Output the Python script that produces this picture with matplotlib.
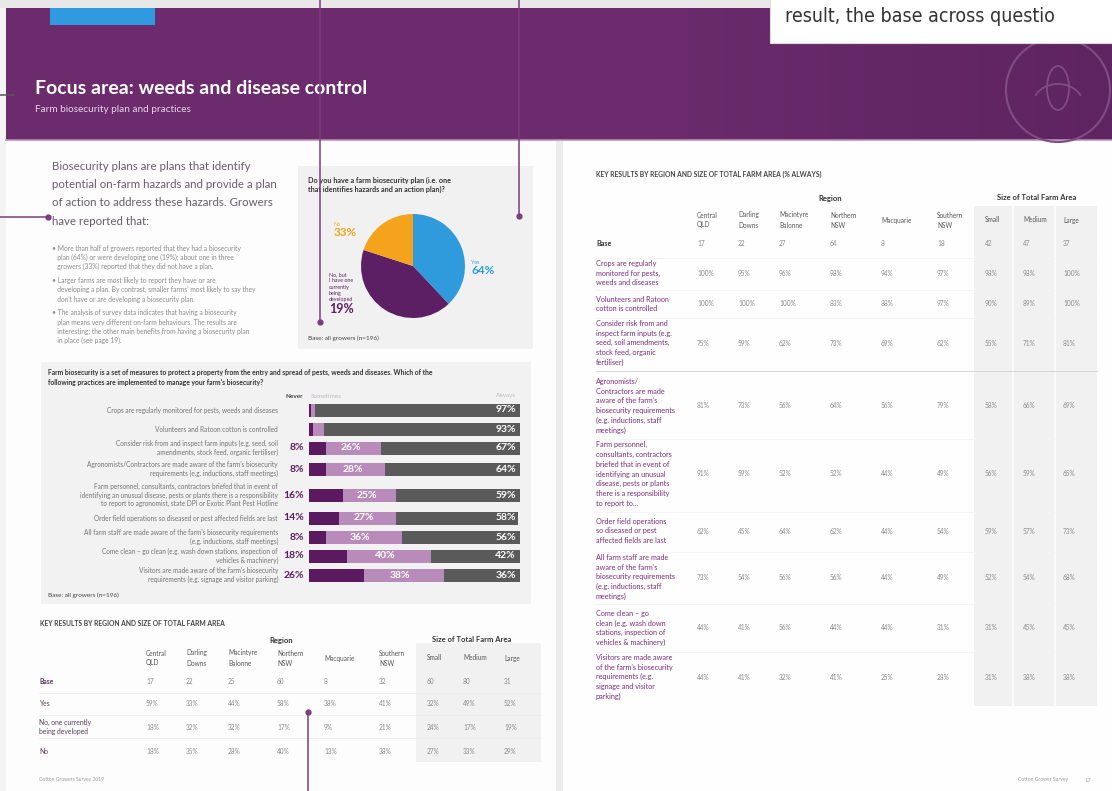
import matplotlib.pyplot as plt
from matplotlib.patches import Rectangle, Circle, Arc
from matplotlib.colors import LinearSegmentedColormap
import numpy as np

plt.rcParams['font.family'] = ['Lato', 'DejaVu Sans']

W, H = 1112, 791

# ---------------- data ----------------
pie_values = [38, 42, 20]          # slice sizes as drawn: yes, developing, no
pie_colors = ['#2f9bdc', '#5d1f63', '#f5a31c']
pie_pct_text = ['64%', '19%', '33%']

practices = [
    'Crops are regularly monitored for pests, weeds and diseases',
    'Volunteers and Ratoon cotton is controlled',
    'Consider risk from and inspect farm inputs (e.g. seed, soil\namendments, stock feed, organic fertiliser)',
    'Agronomists/Contractors are made aware of the farm\'s biosecurity\nrequirements (e.g. inductions, staff meetings)',
    'Farm personnel, consultants, contractors briefed that in event of\nidentifying an unusual disease, pests or plants there is a responsibility\nto report to agronomist, state DPI or Exotic Plant Pest Hotline',
    'Order field operations so diseased or pest affected fields are last',
    'All farm staff are made aware of the farm\'s biosecurity requirements\n(e.g. inductions, staff meetings)',
    'Come clean – go clean (e.g. wash down stations, inspection of\nvehicles & machinery)',
    'Visitors are made aware of the farm\'s biosecurity\nrequirements (e.g. signage and visitor parking)',
]
never = [1, 2, 8, 8, 16, 14, 8, 18, 26]
sometimes = [2, 5, 26, 28, 25, 27, 36, 40, 38]
always = [97, 93, 67, 64, 59, 58, 56, 42, 36]

regions = ['Central\nQLD', 'Darling\nDowns', 'Macintyre\nBalonne', 'Northern\nNSW',
           'Macquarie', 'Southern\nNSW']
sizes = ['Small', 'Medium', 'Large']

plan_rows = ['Base', 'Yes', 'No, one currently\nbeing developed', 'No']
plan_base = [17, 22, 25, 60, 8, 32, 60, 80, 31]
plan_yes = [59, 33, 44, 58, 38, 41, 32, 49, 52]
plan_dev = [18, 32, 32, 17, 9, 21, 24, 17, 19]
plan_no = [18, 35, 28, 40, 13, 38, 27, 33, 29]

always_rows = [
    'Base',
    'Crops are regularly\nmonitored for pests,\nweeds and diseases',
    'Volunteers and Ratoon\ncotton is controlled',
    'Consider risk from and\ninspect farm inputs (e.g.\nseed, soil amendments,\nstock feed, organic\nfertiliser)',
    'Agronomists/\nContractors are made\naware of the farm\'s\nbiosecurity requirements\n(e.g. inductions, staff\nmeetings)',
    'Farm personnel,\nconsultants, contractors\nbriefed that in event of\nidentifying an unusual\ndisease, pests or plants\nthere is a responsibility\nto report to...',
    'Order field operations\nso diseased or pest\naffected fields are last',
    'All farm staff are made\naware of the farm\'s\nbiosecurity requirements\n(e.g. inductions, staff\nmeetings)',
    'Come clean – go\nclean (e.g. wash down\nstations, inspection of\nvehicles & machinery)',
    'Visitors are made aware\nof the farm\'s biosecurity\nrequirements (e.g.\nsignage and visitor\nparking)',
]
always_base = [17, 22, 27, 64, 8, 18, 42, 47, 37]
always_vals = [
    [100, 95, 96, 98, 94, 97, 98, 98, 100],
    [100, 100, 100, 83, 88, 97, 90, 89, 100],
    [75, 59, 62, 73, 69, 62, 55, 71, 81],
    [81, 73, 56, 64, 56, 79, 58, 66, 69],
    [91, 59, 52, 52, 44, 49, 56, 59, 65],
    [62, 45, 64, 62, 44, 54, 59, 57, 73],
    [73, 54, 56, 56, 44, 49, 52, 54, 68],
    [44, 41, 56, 44, 44, 31, 31, 45, 45],
    [44, 41, 32, 41, 25, 28, 31, 38, 38],
]

PURPLE = '#6b2b6c'
PTEXT = '#7a2d7c'
GREY = '#8a8a8a'

fig = plt.figure(figsize=(W / 100, H / 100), dpi=100)
ax = fig.add_axes([0, 0, 1, 1])
ax.set_xlim(0, W)
ax.set_ylim(H, 0)
ax.axis('off')


def px_axes(x0, y0, x1, y1):
    return fig.add_axes([x0 / W, 1 - y1 / H, (x1 - x0) / W, (y1 - y0) / H])


def box(x0, y0, x1, y1, color, z=0, **kw):
    ax.add_patch(Rectangle((x0, y0), x1 - x0, y1 - y0, facecolor=color,
                           edgecolor='none', zorder=z, **kw))


# ---------------- page backgrounds ----------------
box(0, 0, W, H, '#f4f4f4', z=0)
box(6, 140, 556, H, '#fdfdfd', z=0.1)
box(563, 140, W, H, '#fefefe', z=0.1)
box(556, 140, 563, H, '#ececec', z=0.1)
box(0, 0, W, 8, '#e8e8e8', z=0.2)

# banner with a soft darker fade to the right
box(6, 8, W, 140, PURPLE, z=1)
fade = LinearSegmentedColormap.from_list('fade', [PURPLE, '#5e2461'])
ax.imshow(np.linspace(0, 1, 100).reshape(1, -1), cmap=fade, aspect='auto',
          extent=(650, W, 140, 8), zorder=1.05)
ax.set_xlim(0, W)
ax.set_ylim(H, 0)
ax.plot([6, W], [140, 140], color='#b890b8', lw=1.2, zorder=1.2)
box(50, 8, 155, 25, '#2f9ae0', z=1.3)
ax.add_patch(Circle((1058, 90), 52, facecolor='none', edgecolor='#7f4d83', lw=1.5, zorder=1.2))
ax.add_patch(Arc((1058, 104), 50, 40, theta1=200, theta2=340, edgecolor='#7f4d83', lw=1.3, zorder=1.2))
ax.add_patch(Arc((1058, 88), 22, 44, theta1=0, theta2=360, edgecolor='#7f4d83', lw=1.3, zorder=1.2))

ax.text(35, 88, 'Focus area: weeds and disease control', color='white', fontsize=14,
        fontweight='bold', va='center', zorder=3)
ax.text(35, 110, 'Farm biosecurity plan and practices', color='#e6d6e6', fontsize=7.2,
        va='center', zorder=3)

# white note box top right
box(770, 0, W, 43, 'white', z=2)
ax.plot([770, 770, W], [0, 43, 43], color='#dddddd', lw=0.8, zorder=2.1)
ax.text(785, 17, 'result, the base across questio', fontsize=14, color='#333333',
        family=['Liberation Sans Narrow', 'DejaVu Sans'], fontstretch='condensed',
        va='center', zorder=3)

# leader lines
LC = '#7b3d7d'
ax.plot([320, 320], [0, 322], color=LC, lw=1.1, zorder=4)
ax.plot([519, 519], [0, 216], color=LC, lw=1.1, zorder=4)
ax.plot([0, 48], [217, 217], color=LC, lw=1.1, zorder=4)
ax.plot([0, 14], [95, 95], color='#555555', lw=1.1, zorder=4)
ax.plot([308, 308], [712, H], color=LC, lw=1.1, zorder=4)
for x, y in [(320, 322), (519, 216), (48, 217), (308, 712)]:
    ax.plot(x, y, 'o', color=LC, ms=3.5, zorder=4.1)

# ---------------- intro text ----------------
intro = ['Biosecurity plans are plans that identify',
         'potential on-farm hazards and provide a plan',
         'of action to address these hazards. Growers',
         'have reported that:']
for i, line in enumerate(intro):
    ax.text(52, 166 + i * 18.5, line, fontsize=8.3, color='#6a5a6e', va='center', zorder=3)

bullets = [
    ['More than half of growers reported that they had a biosecurity',
     'plan (64%) or were developing one (19%); about one in three',
     'growers (33%) reported that they did not have a plan.'],
    ['Larger farms are most likely to report they have or are',
     'developing a plan. By contrast, smaller farms' + "'" + ' most likely to say they',
     'don' + "'" + 't have or are developing a biosecurity plan.'],
    ['The analysis of survey data indicates that having a biosecurity',
     'plan means very different on-farm behaviours. The results are',
     'interesting; the other main benefits from having a biosecurity plan',
     'in place (see page 19).'],
]
y = 248
for b in bullets:
    for j, line in enumerate(b):
        ax.text(52, y, ('• ' if j == 0 else '   ') + line, fontsize=4.8, color=GREY,
                va='center', zorder=3)
        y += 9.3
    y += 4.5

# ---------------- pie box ----------------
box(298, 166, 533, 349, '#f1f1f1', z=1.5)
ax.text(308, 185, 'Do you have a farm biosecurity plan (i.e. one\nthat identifies hazards and an action plan)?',
        fontsize=5.2, fontweight='bold', color='#333333', va='center', linespacing=1.4, zorder=3)
ax.text(308, 338, 'Base: all growers (n=196)', fontsize=4.6, color='#444444', va='center', zorder=3)

pax = px_axes(413 - 52, 266 - 52, 413 + 52, 266 + 52)
pax.pie(pie_values, colors=pie_colors, startangle=90, counterclock=False,
        wedgeprops=dict(linewidth=0))
pax.set_aspect('equal')
pax.set_xlim(-1, 1)
pax.set_ylim(-1, 1)

ax.text(471, 262, 'Yes', fontsize=3.8, color=pie_colors[0], va='center', zorder=3)
ax.text(471, 271, pie_pct_text[0], fontsize=8.5, fontweight='bold', color=pie_colors[0],
        va='center', zorder=3)
ax.text(334, 225, 'No', fontsize=3.8, color=pie_colors[2], va='center', zorder=3)
ax.text(334, 233, pie_pct_text[2], fontsize=8.5, fontweight='bold', color=pie_colors[2],
        va='center', zorder=3)
ax.text(329, 287, 'No, but\nI have one\ncurrently\nbeing\ndeveloped', fontsize=3.8,
        color=pie_colors[1], va='center', linespacing=1.3, zorder=3)
ax.text(329, 309, pie_pct_text[1], fontsize=9, fontweight='bold', color=pie_colors[1],
        va='center', zorder=3)

# ---------------- practices stacked bars ----------------
box(41, 362, 531, 604, '#f2f2f2', z=1.5)
ax.text(48, 377, 'Farm biosecurity is a set of measures to protect a property from the entry and spread of pests, weeds and diseases. Which of the\n'
        'following practices are implemented to manage your farm' + "'" + 's biosecurity?',
        fontsize=4.9, fontweight='bold', color='#333333', va='center', linespacing=1.5, zorder=3)
ax.text(303, 396, 'Never', fontsize=4.6, fontweight='bold', color='#444444', ha='right', va='center', zorder=3)
ax.text(311, 396, 'Sometimes', fontsize=4.6, color='#c4b4c6', va='center', zorder=3)
ax.text(516, 396, 'Always', fontsize=4.6, color='#bdbdbd', ha='right', va='center', zorder=3)
ax.text(48, 595, 'Base: all growers (n=196)', fontsize=4.6, color='#444444', va='center', zorder=3)

row_y = [410, 429, 448, 469, 495, 518, 537, 556, 575]
bax = px_axes(309, 400, 520, 585)
bax.set_xlim(0, 100)
bax.set_ylim(585, 400)
bax.axis('off')
nv = np.array(never)
sm = np.array(sometimes)
al = np.array(always)
bax.barh(row_y, nv, height=13, color='#5b1a5f', linewidth=0)
bax.barh(row_y, sm, left=nv, height=13, color='#b88bba', linewidth=0)
bax.barh(row_y, al, left=nv + sm, height=13, color='#5a5a5a', linewidth=0)
for i, yy in enumerate(row_y):
    if never[i] >= 5:
        bax.text(-2.5, yy, f'{never[i]}%', fontsize=7.5, fontweight='bold', color='#5b1a5f',
                 ha='right', va='center', clip_on=False)
    if sometimes[i] >= 10:
        bax.text(nv[i] + sm[i] * 0.45, yy, f'{sometimes[i]}%', fontsize=7.5, fontweight='bold',
                 color='white', ha='center', va='center')
    bax.text(98, yy, f'{always[i]}%', fontsize=7.5, fontweight='bold', color='white',
             ha='right', va='center')
    ax.text(278, yy, practices[i], fontsize=4.7, color='#727272', ha='right', va='center',
            linespacing=1.3, multialignment='right', zorder=3)

# ---------------- plan table (bottom left) ----------------
ax.text(40, 623, 'KEY RESULTS BY REGION AND SIZE OF TOTAL FARM AREA', fontsize=4.9,
        fontweight='bold', color='#444444', va='center', zorder=3)
box(416, 643, 541, 762, '#f1f1f1', z=1.5)
lcols = [146, 186, 228, 277, 324, 379, 427, 463, 504]
ax.text(281, 640, 'Region', fontsize=5.5, fontweight='bold', color='#333333', ha='center', va='center', zorder=3)
ax.text(472, 640, 'Size of Total Farm Area', fontsize=5.5, fontweight='bold', color='#333333',
        ha='center', va='center', zorder=3)
for x, lab in zip(lcols, regions + sizes):
    ax.text(x, 658, lab, fontsize=4.7, color='#555555', va='center', linespacing=1.5, zorder=3)
plan_y = [682, 704, 727, 751]
plan_data = [plan_base, plan_yes, plan_dev, plan_no]
for r, (yy, lab, vals) in enumerate(zip(plan_y, plan_rows, plan_data)):
    ax.text(39, yy, lab, fontsize=4.9, color='#5b3a5e', fontweight='bold' if r == 0 else 'normal',
            va='center', linespacing=1.4, zorder=3)
    for x, v in zip(lcols, vals):
        ax.text(x, yy, f'{v}' if r == 0 else f'{v}%', fontsize=4.7, color=GREY, va='center', zorder=3)
    if r < 3:
        ax.plot([39, 541], [yy + 11, yy + 11], color='#ededed', lw=0.6, zorder=2)

ax.text(39, 780, 'Cotton Growers Survey 2019', fontsize=3.6, color='#999999', va='center', zorder=3)

# ---------------- % always table (right page) ----------------
ax.text(596, 174, 'KEY RESULTS BY REGION AND SIZE OF TOTAL FARM AREA (% ALWAYS)', fontsize=4.9,
        fontweight='bold', color='#444444', va='center', zorder=3)
box(974, 206, 1097, 706, '#f1f1f1', z=1.5)
ax.plot([1013, 1013], [206, 706], color='#fafafa', lw=1.5, zorder=1.6)
ax.plot([1055, 1055], [206, 706], color='#fafafa', lw=1.5, zorder=1.6)
rcols = [697, 738, 779, 830, 881, 937, 985, 1023, 1063]
ax.text(830, 198, 'Region', fontsize=5.5, fontweight='bold', color='#333333', ha='center', va='center', zorder=3)
ax.text(1037, 198, 'Size of Total Farm Area', fontsize=5.5, fontweight='bold', color='#333333',
        ha='center', va='center', zorder=3)
for x, lab in zip(rcols, regions + sizes):
    ax.text(x, 220, lab, fontsize=4.7, color='#555555', va='center', linespacing=1.5, zorder=3)

r_y = [244, 273, 304, 343, 406, 474, 531, 577, 628, 677]
r_vals = [always_base] + always_vals
for r, (yy, lab, vals) in enumerate(zip(r_y, always_rows, r_vals)):
    ax.text(596, yy, lab, fontsize=5.2, color='#333333' if r == 0 else PTEXT,
            fontweight='bold' if r == 0 else 'normal', va='center', linespacing=1.45, zorder=3)
    for x, v in zip(rcols, vals):
        ax.text(x, yy, f'{v}' if r == 0 else f'{v}%', fontsize=4.7, color=GREY, va='center', zorder=3)
seps = [258, 290, 318, 371, 439, 512, 552, 604, 652]
for i, s in enumerate(seps):
    ax.plot([596, 1097], [s, s], color='#d0d0d0' if i == 3 else '#f3f3f3', lw=0.6, zorder=1.7)

ax.text(1068, 780, 'Cotton Grower Survey', fontsize=3.6, color='#999999', ha='right', va='center', zorder=3)
ax.text(1085, 780, '17', fontsize=4.2, color='#999999', va='center', zorder=3)

fig.savefig('out.png', dpi=100)
